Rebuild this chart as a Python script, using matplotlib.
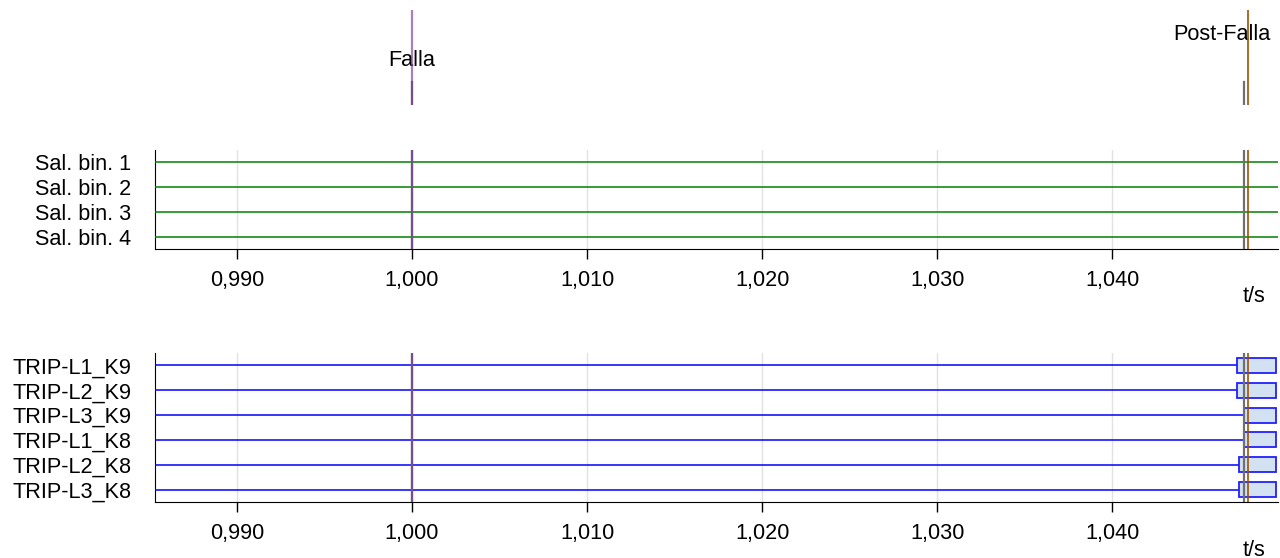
import matplotlib.pyplot as plt
from matplotlib.patches import Rectangle
from matplotlib.ticker import FuncFormatter, MultipleLocator

plt.rcParams["font.family"] = ["Liberation Sans", "DejaVu Sans"]
FS = 15.6

# event markers (s)
t_falla = 1.000
t_post = 1.04773
t_pickup = [1.000, 1.04750]

# record span
t_start = 0.98533
t_end = 1.04935

bin_names = ["Sal. bin. 1", "Sal. bin. 2", "Sal. bin. 3", "Sal. bin. 4"]

trip_names = ["TRIP-L1_K9", "TRIP-L2_K9", "TRIP-L3_K9",
              "TRIP-L1_K8", "TRIP-L2_K8", "TRIP-L3_K8"]
trip_on = [1.04710, 1.04710, 1.04750, 1.04750, 1.04722, 1.04722]

PURPLE = "#7d3c98"
GREY = "#707070"
BROWN = "#a05000"
W, H = 1280, 558


def px_axes(fig, top, bottom, left=155, right=1278):
    return fig.add_axes([left / W, 1 - bottom / H, (right - left) / W, (bottom - top) / H])


def markers(ax, grey_top=1.0):
    for t in t_pickup:
        ax.axvline(t, ymin=0, ymax=grey_top, color=GREY, lw=1.6, zorder=4)
    ax.axvline(t_falla, color=PURPLE, lw=1.6, alpha=0.65, zorder=5)
    ax.axvline(t_post, color=BROWN, lw=1.2, zorder=5)


def style_time_axis(ax, n):
    ax.set_xlim(t_start, t_end + 0.0001)
    ax.set_ylim(n + 0.5, 0.5)
    for s in ("top", "right"):
        ax.spines[s].set_visible(False)
    ax.xaxis.set_major_locator(MultipleLocator(0.01))
    ax.xaxis.set_major_formatter(FuncFormatter(lambda v, p: f"{v:.3f}".replace(".", ",")))
    ax.grid(axis="x", color="#e2e2e2", lw=1)
    ax.set_axisbelow(True)
    ax.tick_params(axis="x", direction="out", length=7.2, width=1, pad=8, labelsize=FS)
    ax.tick_params(axis="y", length=0, pad=17, labelsize=FS)
    ax.annotate("t/s", xy=(1, 0), xycoords="axes fraction", xytext=(-24, -48),
                textcoords="offset pixels", ha="center", va="center", fontsize=FS)


fig = plt.figure(figsize=(12.8, 5.58), dpi=100)

# marker strip
ax0 = px_axes(fig, 10, 105)
ax0.set_xlim(t_start, t_end + 0.0001)
ax0.set_ylim(0, 1)
ax0.axis("off")
markers(ax0, grey_top=0.24)
ax0.text(t_falla, 0.47, "Falla", ha="center", va="center", fontsize=FS)
ax0.annotate("Post-Falla", xy=(t_post, 0.737), xycoords="data", xytext=(-26, 0),
             textcoords="offset pixels", ha="center", va="center", fontsize=FS)

# binary outputs
ax1 = px_axes(fig, 150, 249)
ys = range(1, len(bin_names) + 1)
for y in ys:
    ax1.plot([t_start, t_end + 0.0001], [y, y], color="#008000", lw=1.1, zorder=3)
ax1.set_yticks(list(ys))
ax1.set_yticklabels(bin_names)
markers(ax1)
style_time_axis(ax1, len(bin_names))

# trip signals
ax2 = px_axes(fig, 353, 502)
for i, (name, ton) in enumerate(zip(trip_names, trip_on)):
    y = i + 1
    ax2.plot([t_start, ton], [y, y], color="#0000ff", lw=1.1, zorder=3)
    ax2.add_patch(Rectangle((ton, y - 0.3), t_end - ton, 0.6, facecolor="#d3e2f3",
                            edgecolor="#2020ff", lw=1.3, zorder=3))
ax2.set_yticks(range(1, len(trip_names) + 1))
ax2.set_yticklabels(trip_names)
markers(ax2)
style_time_axis(ax2, len(trip_names))

fig.savefig("out.png", dpi=100)
